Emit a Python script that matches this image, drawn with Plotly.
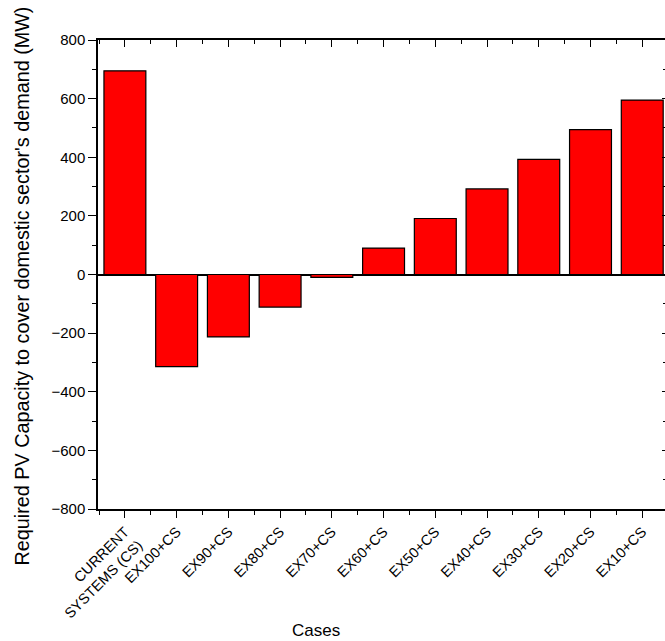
import plotly.graph_objects as go

categories = ["CURRENT<br>SYSTEMS (CS)", "EX100+CS", "EX90+CS", "EX80+CS", "EX70+CS",
              "EX60+CS", "EX50+CS", "EX40+CS", "EX30+CS", "EX20+CS", "EX10+CS"]
values = [695, -314, -213, -111, -10, 90, 191, 292, 393, 494, 595]
y_ticks = [-800, -600, -400, -200, 0, 200, 400, 600, 800]

pos = list(range(len(categories)))
minor_pos = [p + 0.5 for p in pos[:-1]] + [-0.5]
FONT = "Arial, Liberation Sans, sans-serif"

fig = go.Figure()
fig.add_trace(go.Bar(x=pos, y=values, width=0.81,
                     marker=dict(color="#ff0000", line=dict(color="black", width=1.2)),
                     showlegend=False))
fig.add_trace(go.Scatter(x=[0], y=[0], xaxis="x2", yaxis="y2", mode="markers",
                         marker=dict(opacity=0), showlegend=False, hoverinfo="skip"))

fig.update_layout(
    width=665, height=641,
    margin=dict(l=98, r=0, t=40, b=132),
    plot_bgcolor="white", paper_bgcolor="white",
    font=dict(family=FONT, color="black", size=15),
    xaxis=dict(range=[-0.52, 10.44], tickmode="array", tickvals=pos, ticktext=categories,
               tickangle=-45, ticks="outside", ticklen=7, tickwidth=1.2, tickcolor="black",
               showline=True, linecolor="black", linewidth=1.5, showgrid=False, zeroline=False,
               minor=dict(tickmode="array", tickvals=minor_pos, ticks="outside", ticklen=4,
                          tickwidth=1, tickcolor="black"),
               tickfont=dict(size=14.5)),
    xaxis2=dict(overlaying="x", side="top", matches="x", tickmode="array", tickvals=pos,
                showticklabels=False, ticks="inside", ticklen=7, tickwidth=1.2, tickcolor="black",
                showline=True, linecolor="black", linewidth=1.5, showgrid=False, zeroline=False,
                minor=dict(tickmode="array", tickvals=minor_pos, ticks="inside", ticklen=4,
                           tickwidth=1, tickcolor="black")),
    yaxis=dict(range=[-800, 800], tickmode="array", tickvals=y_ticks,
               ticks="outside", ticklen=8, tickwidth=1.2, tickcolor="black",
               showline=True, linecolor="black", linewidth=1.5, showgrid=False,
               zeroline=True, zerolinecolor="black", zerolinewidth=2,
               minor=dict(dtick=100, ticks="outside", ticklen=4, tickwidth=1, tickcolor="black"),
               tickfont=dict(size=15)),
    yaxis2=dict(overlaying="y", side="right", matches="y", showticklabels=False,
                ticks="inside", ticklen=3, tickwidth=1, tickcolor="black", tickmode="array",
                tickvals=y_ticks, showline=False, showgrid=False, zeroline=False,
                minor=dict(dtick=100, ticks="inside", ticklen=2, tickwidth=1, tickcolor="black")),
    annotations=[
        dict(text="Required PV Capacity to cover domestic sector's demand (MW)",
             xref="paper", yref="paper", x=(21 - 98) / 567, y=(509 - 286.5) / 469, textangle=-90,
             showarrow=False, font=dict(size=19.8, family=FONT), xanchor="center", yanchor="middle"),
        dict(text="Cases", xref="paper", yref="paper", x=(316 - 98) / 567, y=-(630 - 509) / 469,
             showarrow=False, font=dict(size=17, family=FONT), xanchor="center", yanchor="middle"),
    ],
)

fig.write_html("out.html")
